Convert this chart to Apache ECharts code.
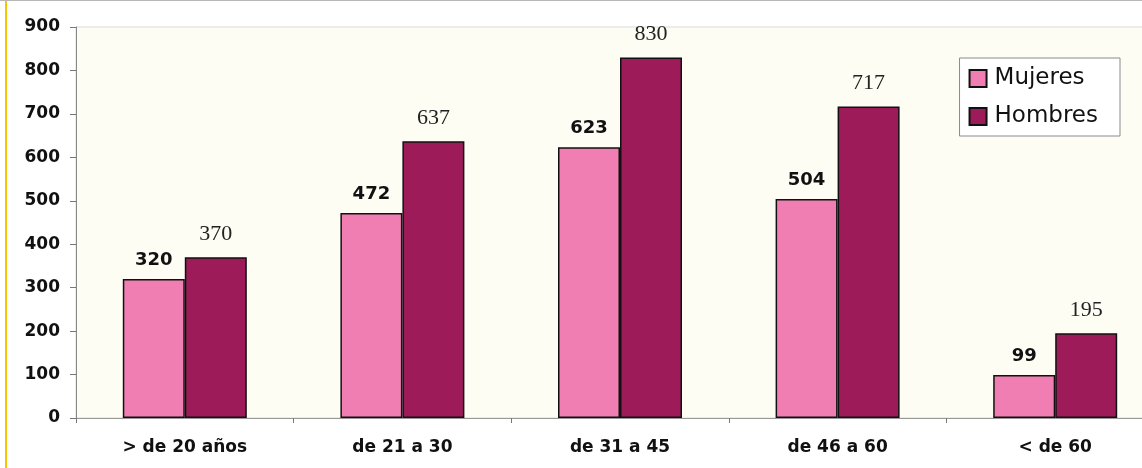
<!DOCTYPE html>
<html><head><meta charset="utf-8">
<script src="https://cdn.jsdelivr.net/npm/echarts@6/dist/echarts.min.js"></script>
<style>html,body{margin:0;padding:0;background:#fff;overflow:hidden;width:1142px;height:468px}#c{width:1164px;height:468px}</style>
</head><body><div id="c"></div>
<script>
const categories = ['> de 20 años', 'de 21 a 30', 'de 31 a 45', 'de 46 a 60', '< de 60'];
const mujeres = [320, 472, 623, 504, 99];
const hombres = [370, 637, 830, 717, 195];
const seriesNames = ['Mujeres', 'Hombres'];

const SANS = 'DejaVu Sans, Verdana, sans-serif';
const SERIF = 'Liberation Serif, Times New Roman, serif';

const chart = echarts.init(document.getElementById('c'));
chart.setOption({
  backgroundColor: '#ffffff',
  animation: false,
  graphic: [
    {type: 'rect', shape: {x: 5, y: 0, width: 2, height: 468}, style: {fill: '#f6c500'}, z: 10},
    {type: 'rect', shape: {x: 0, y: 0, width: 1164, height: 1}, style: {fill: '#b8b8b8'}, z: 10}
  ],
  grid: {left: 76, right: 0, top: 27, bottom: 50, show: true, backgroundColor: '#fdfdf4', borderWidth: 1, borderColor: '#dadada'},
  legend: {
    orient: 'vertical', right: 44, top: 58,
    padding: [9, 22, 8, 9], itemGap: 15,
    borderColor: '#8a8a8a', borderWidth: 1, backgroundColor: '#ffffff',
    itemWidth: 17, itemHeight: 17, icon: 'rect',
    textStyle: {fontFamily: SANS, fontSize: 23, color: '#111', padding: [0, 0, 0, 3]},
    data: seriesNames
  },
  xAxis: {
    type: 'category', data: categories,
    axisLine: {lineStyle: {color: '#999', width: 1}},
    axisTick: {show: true, length: 5, lineStyle: {color: '#777'}},
    axisLabel: {margin: 21, color: '#111', fontFamily: SANS, fontWeight: 'bold', fontSize: 17}
  },
  yAxis: {
    type: 'value', min: 0, max: 900, interval: 100,
    axisLine: {show: true, lineStyle: {color: '#888', width: 1}},
    axisTick: {show: true, length: 6, lineStyle: {color: '#777'}},
    splitLine: {show: false},
    axisLabel: {margin: 16, color: '#111', fontFamily: SANS, fontWeight: 'bold', fontSize: 17}
  },
  series: [
    {
      name: seriesNames[0], type: 'bar', data: mujeres, barWidth: 62, barGap: '0%',
      itemStyle: {color: '#f07eb3', borderColor: '#111', borderWidth: 1.5},
      label: {show: true, position: 'top', distance: 10, color: '#111', fontFamily: SANS, fontWeight: 'bold', fontSize: 18}
    },
    {
      name: seriesNames[1], type: 'bar', data: hombres, barWidth: 62, barGap: '0%',
      itemStyle: {color: '#9c1b58', borderColor: '#111', borderWidth: 1.5},
      label: {show: true, position: 'top', distance: 12, color: '#222', fontFamily: SERIF, fontSize: 22}
    }
  ]
});
</script></body></html>
